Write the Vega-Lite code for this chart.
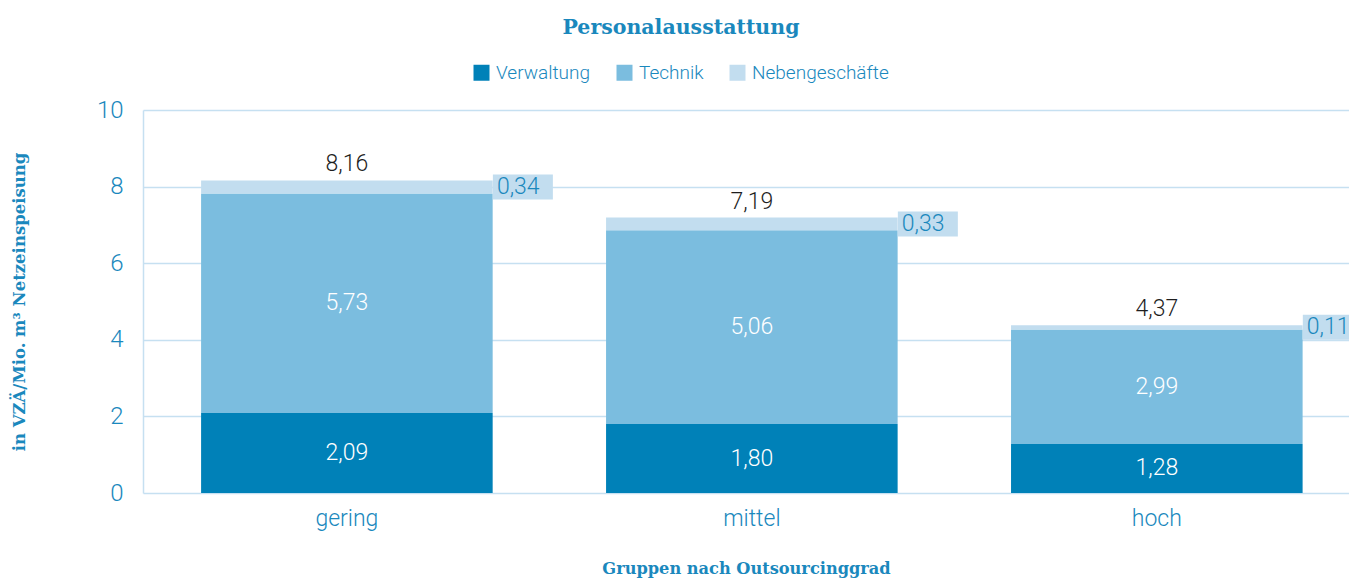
{
  "$schema": "https://vega.github.io/schema/vega-lite/v6.json",
  "width": 1206,
  "height": 383,
  "autosize": {"type": "none"},
  "padding": {"left": 143, "top": 110, "right": 0, "bottom": 86},
  "background": "white",
  "config": {
    "locale": {"number": {"decimal": ",", "thousands": ".", "grouping": [3], "currency": ["", " €"]}},
    "view": {"stroke": null},
    "font": "Roboto"
  },
  "title": {
    "text": "Personalausstattung",
    "font": "DejaVu Serif",
    "fontSize": 20.5,
    "fontWeight": "bold",
    "color": "#1a88bd",
    "anchor": "middle",
    "dx": -65,
    "offset": 25
  },
  "data": {
    "values": [
      {"g": "gering", "kat": "Verwaltung", "ord": 1, "v": 2.09, "total": 8.16},
      {"g": "gering", "kat": "Technik", "ord": 2, "v": 5.73, "total": 8.16},
      {"g": "gering", "kat": "Nebengeschäfte", "ord": 3, "v": 0.34, "total": 8.16},
      {"g": "mittel", "kat": "Verwaltung", "ord": 1, "v": 1.80, "total": 7.19},
      {"g": "mittel", "kat": "Technik", "ord": 2, "v": 5.06, "total": 7.19},
      {"g": "mittel", "kat": "Nebengeschäfte", "ord": 3, "v": 0.33, "total": 7.19},
      {"g": "hoch", "kat": "Verwaltung", "ord": 1, "v": 1.28, "total": 4.37},
      {"g": "hoch", "kat": "Technik", "ord": 2, "v": 2.99, "total": 4.37},
      {"g": "hoch", "kat": "Nebengeschäfte", "ord": 3, "v": 0.11, "total": 4.37}
    ]
  },
  "transform": [
    {"stack": "v", "groupby": ["g"], "sort": [{"field": "ord", "order": "ascending"}], "as": ["v0", "v1"]},
    {"calculate": "(datum.v0 + datum.v1) / 2", "as": "mid"}
  ],
  "encoding": {
    "x": {
      "field": "g",
      "type": "nominal",
      "sort": ["gering", "mittel", "hoch"],
      "scale": {"paddingInner": 0.28, "paddingOuter": 0.129, "align": 0.556},
      "axis": {
        "labelAngle": 0,
        "title": "Gruppen nach Outsourcinggrad",
        "titleFont": "DejaVu Serif",
        "titleFontWeight": "bold",
        "titleFontSize": 16.2,
        "titleColor": "#1a88bd",
        "titlePadding": 30,
        "domain": false,
        "ticks": false,
        "labelFont": "Roboto",
        "labelFontSize": 23,
        "labelFontWeight": 300,
        "labelColor": "#1a88bd",
        "labelPadding": 14
      }
    }
  },
  "layer": [
    {
      "mark": {"type": "bar"},
      "encoding": {
        "y": {
          "field": "v1",
          "type": "quantitative",
          "scale": {"domain": [0, 10]},
          "axis": {
            "values": [0, 2, 4, 6, 8, 10],
            "title": "in VZÄ/Mio. m³ Netzeinspeisung",
            "titleFont": "DejaVu Serif",
            "titleFontWeight": "bold",
            "titleFontSize": 16.5,
            "titleColor": "#1a88bd",
            "titleX": -116,
            "domain": true,
            "domainColor": "#c6e0f1",
            "domainWidth": 1.5,
            "ticks": false,
            "grid": true,
            "gridColor": "#c6e0f1",
            "gridWidth": 1.5,
            "labelFont": "Roboto",
            "labelFontSize": 24,
            "labelFontWeight": 300,
            "labelColor": "#1a88bd",
            "labelPadding": 20
          }
        },
        "y2": {"field": "v0"},
        "color": {
          "field": "kat",
          "type": "nominal",
          "scale": {
            "domain": ["Verwaltung", "Technik", "Nebengeschäfte"],
            "range": ["#0081b8", "#7bbddf", "#c2ddef"]
          },
          "legend": {
            "orient": "none",
            "direction": "horizontal",
            "legendX": 329,
            "legendY": -47,
            "title": null,
            "symbolType": "square",
            "symbolSize": 256,
            "symbolStrokeWidth": 0,
            "labelFont": "Roboto",
            "labelFontSize": 19,
            "labelFontWeight": 300,
            "labelColor": "#1a88bd",
            "labelOffset": 5,
            "columnPadding": 24
          }
        }
      }
    },
    {
      "transform": [{"filter": "datum.kat !== 'Nebengeschäfte'"}],
      "mark": {"type": "text", "color": "white", "fontSize": 23, "fontWeight": 300, "baseline": "middle", "align": "center"},
      "encoding": {
        "y": {"field": "mid", "type": "quantitative"},
        "text": {"field": "v", "type": "quantitative", "format": ".2f"}
      }
    },
    {
      "transform": [{"filter": "datum.kat === 'Nebengeschäfte'"}],
      "mark": {"type": "tick", "color": "#c2ddef", "size": 60, "thickness": 25, "xOffset": 176, "opacity": 1},
      "encoding": {
        "y": {"field": "mid", "type": "quantitative"}
      }
    },
    {
      "transform": [{"filter": "datum.kat === 'Nebengeschäfte'"}],
      "mark": {"type": "text", "color": "#1a88bd", "fontSize": 23, "fontWeight": 300, "baseline": "middle", "align": "left", "xOffset": 150},
      "encoding": {
        "y": {"field": "mid", "type": "quantitative"},
        "text": {"field": "v", "type": "quantitative", "format": ".2f"}
      }
    },
    {
      "transform": [{"filter": "datum.kat === 'Nebengeschäfte'"}],
      "mark": {"type": "text", "color": "#1e1e1e", "fontSize": 23, "fontWeight": 300, "baseline": "middle", "align": "center", "dy": -16},
      "encoding": {
        "y": {"field": "v1", "type": "quantitative"},
        "text": {"field": "total", "type": "quantitative", "format": ".2f"}
      }
    }
  ]
}
